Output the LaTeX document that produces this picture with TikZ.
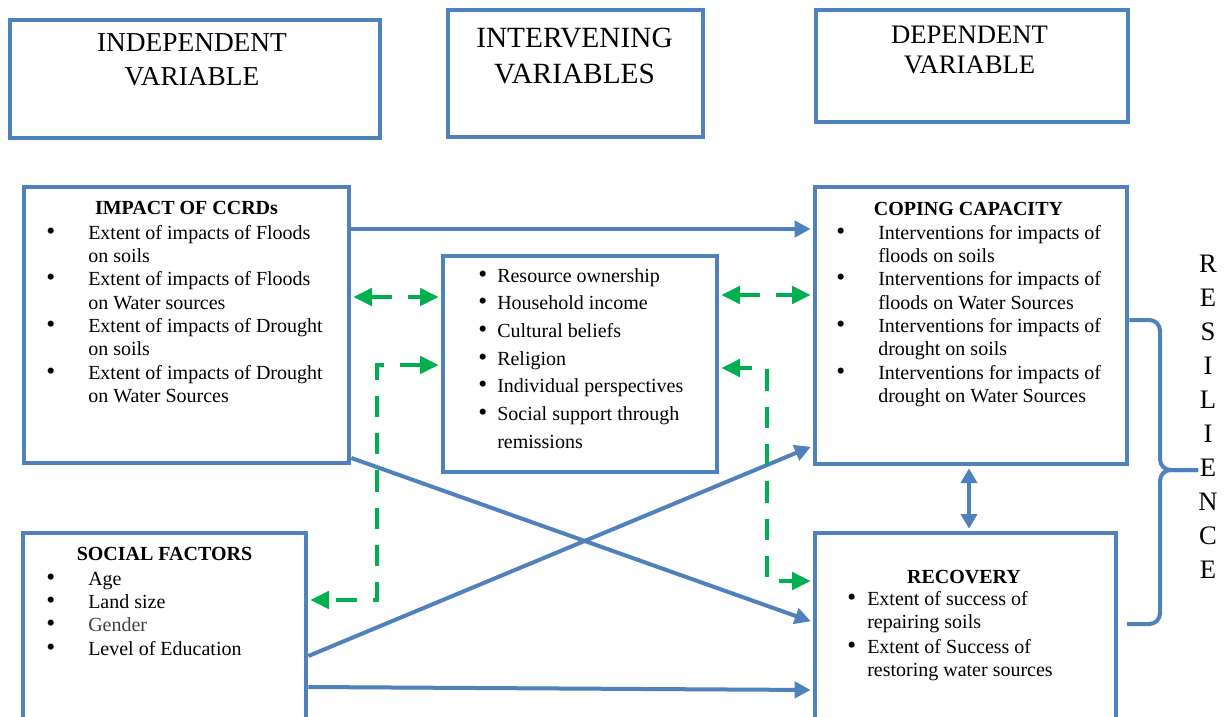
\documentclass[tikz,border=0pt]{standalone}
\usepackage{fontspec}
\setmainfont{Liberation Serif}
\usetikzlibrary{arrows.meta}
\definecolor{bx}{RGB}{79,129,189}
\definecolor{gr}{RGB}{0,176,80}
\newcommand{\bul}{{\fontsize{19}{17}\selectfont\textbullet}}
\begin{document}
\begin{tikzpicture}[x=0.75pt,y=-0.75pt,
  box/.style={draw=bx, line width=3.5pt, fill=white, inner sep=0pt},
  bl/.style={draw=bx, line width=3pt, shorten >=1.5pt, -{Triangle[length=12pt,width=12pt]}},
  bothbl/.style={draw=bx, line width=3pt, shorten >=1.5pt, shorten <=1.5pt, {Triangle[length=11pt,width=12pt]}-{Triangle[length=11pt,width=12pt]}},
  gd/.style={draw=gr, line width=3pt, dash pattern=on 16pt off 12pt, shorten >=1.5pt, shorten <=1.5pt, {Triangle[length=14pt,width=13pt]}-{Triangle[length=14pt,width=13pt]}},
  hdr/.style={align=center, inner sep=0pt},
  lst/.style={anchor=base west, inner sep=0pt},
  ttl/.style={anchor=base, inner sep=0pt, font=\fontsize{15}{17}\selectfont\bfseries},
]
\useasboundingbox (0,0) rectangle (1231,717);
\clip (0,0) rectangle (1231,717);
\fill[white] (0,0) rectangle (1231,717);

% header boxes
\node[box, minimum width=277.5pt, minimum height=88.5pt] (hind) at (195,79) {};
\node[box, minimum width=191.25pt, minimum height=95.25pt] (hint) at (575.5,73.5) {};
\node[box, minimum width=234pt, minimum height=84pt] (hdep) at (972,66) {};
\node[hdr, font=\fontsize{20.5}{25.5}\selectfont] (tind) at (192,60) {INDEPENDENT\\VARIABLE};
\node[hdr, font=\fontsize{22}{27}\selectfont] (tint) at (574.5,56.5) {INTERVENING\\VARIABLES};
\node[hdr, font=\fontsize{20}{22.5}\selectfont] (tdep) at (969.5,50) {DEPENDENT\\VARIABLE};

% main boxes
\node[box, minimum width=243.75pt, minimum height=207pt] (impact) at (186.5,325) {};
\node[box, minimum width=205.5pt, minimum height=162pt] (mid) at (580,364) {};
\node[box, minimum width=234pt, minimum height=207.75pt] (coping) at (971,325.5) {};
\node[box, minimum width=212.25pt, minimum height=160.5pt] (social) at (164.5,640) {};
\node[box, minimum width=225.75pt, minimum height=160.5pt] (recovery) at (965.5,640) {};

% impact
\node[ttl] (impactT) at (186.5,214) {IMPACT OF CCRDs};
\node[lst, font=\fontsize{15}{17.5}\selectfont] (impactL) at (46,239) {\begin{tabular}[t]{@{}p{31.5pt}@{}l@{}}
\bul & Extent of impacts of Floods\\
 & on soils\\
\bul & Extent of impacts of Floods\\
 & on Water sources\\
\bul & Extent of impacts of Drought\\
 & on soils\\
\bul & Extent of impacts of Drought\\
 & on Water Sources
\end{tabular}};

% coping
\node[ttl] (copingT) at (968.5,215) {COPING CAPACITY};
\node[lst, font=\fontsize{15}{17.5}\selectfont] (copingL) at (836,239) {\begin{tabular}[t]{@{}p{31.5pt}@{}l@{}}
\bul & Interventions for impacts of\\
 & floods on soils\\
\bul & Interventions for impacts of\\
 & floods on Water Sources\\
\bul & Interventions for impacts of\\
 & drought on soils\\
\bul & Interventions for impacts of\\
 & drought on Water Sources
\end{tabular}};

% middle
\node[lst, font=\fontsize{15}{20.8}\selectfont] (midL) at (478,282) {\begin{tabular}[t]{@{}p{14.25pt}@{}l@{}}
\bul & Resource ownership\\
\bul & Household income\\
\bul & Cultural beliefs\\
\bul & Religion\\
\bul & Individual perspectives\\
\bul & Social support through\\
 & remissions
\end{tabular}};

% social
\node[ttl] (socialT) at (164.5,560) {SOCIAL FACTORS};
\node[lst, font=\fontsize{15}{17.5}\selectfont] (socialL) at (46,585) {\begin{tabular}[t]{@{}p{31.5pt}@{}l@{}}
\bul & Age\\
\bul & Land size\\
\bul & \color{black!75}Gender\\
\bul & Level of Education
\end{tabular}};

% recovery
\node[ttl] (recoveryT) at (964,583) {RECOVERY};
\node[lst, font=\fontsize{15}{17.25}\selectfont] (recoveryL) at (847,605) {\begin{tabular}[t]{@{}p{15pt}@{}l@{}}
\bul & Extent of success of\\
 & repairing soils\\[1.5pt]
\bul & Extent of Success of\\
 & restoring water sources
\end{tabular}};

% resilience
\node[hdr, font=\fontsize{20}{25.5}\selectfont] (res) at (1208,416.5) {R\\E\\S\\I\\L\\I\\E\\N\\C\\E};

% blue connectors
\draw[bl] (impact.east |- 0,229) -- (coping.west |- 0,229);
\draw[bl] (impact.east |- 0,458) -- (recovery.west |- 0,622);
\draw[bl] (social.east |- 0,656) -- (coping.west |- 0,446);
\draw[bl] (social.east |- 0,687) -- (recovery.west |- 0,690);
\draw[bothbl] (969,0 |- coping.south) -- (969,0 |- recovery.north);

% brace
\coordinate (bend) at (1127,624);
\coordinate (btip) at (1198,470);
\draw[draw=bx, line width=3pt, rounded corners=8pt] (coping.east |- 0,320) -- (1160,320) -- (1160,470) -- (btip);
\draw[draw=bx, line width=3pt, rounded corners=8pt] (btip) -- (1160,470) -- (1160,624) -- (bend);

% green dashed connectors
\draw[gd] (impact.east |- 0,297) -- (mid.west |- 0,297);
\draw[gd] (mid.east |- 0,295) -- (coping.west |- 0,295);
\draw[gd] (mid.west |- 0,365) -- (377,365) -- (377,600) -- (social.east |- 0,600);
\draw[gd, dash phase=6pt] (mid.east |- 0,368) -- (767,368) -- (767,581) -- (recovery.west |- 0,581);
\end{tikzpicture}
\end{document}
